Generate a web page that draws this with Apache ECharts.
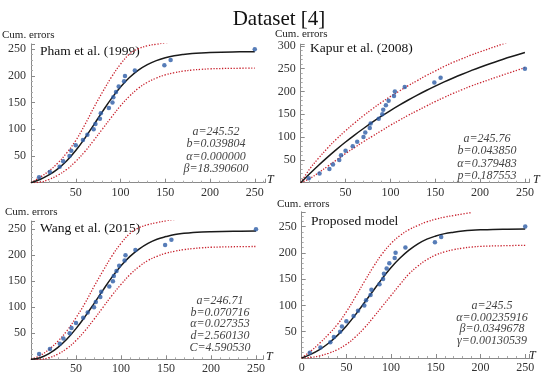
<!DOCTYPE html>
<html><head><meta charset="utf-8">
<script src="https://cdn.jsdelivr.net/npm/echarts@6/dist/echarts.min.js"></script>
<style>html,body{margin:0;padding:0;background:#fff}#c{width:550px;height:383px}</style>
</head><body><div id="c"></div>
<script>
// Observed data (time, cumulative errors)
const obsT = [9,21,32,36,43,45,50,58,63,70,72,77,78,87,91,92,95,98,104,105,116,149,156,250];
const obsY = [10,20,30,40,50,60,70,80,90,100,110,120,130,140,150,160,170,180,190,200,210,220,230,250];

// Sample times for curves
const tGrid = [0,10,20,30,40,50,60,70,80,90,100,110,120,130,140,150,160,170,180,190,200,225,250];

// Pham et al. (1999)
const phamFit = [0,6.0,14.5,26.0,41.2,60.3,82.9,108.0,133.6,157.9,179.3,197.0,210.8,221.1,228.6,233.9,237.6,240.1,241.9,243.1,243.9,244.9,245.3];
const phamUp  = [0,10,22,37,56,79,108,140,170,198,222,241,251,256.5,259.5,262,264.5,266.5,268,269.5,271,274,276];
const phamLow = [0,1,6,14,25,40,58,79,101,123,144,162,177,188,196,202,206,209,211,212.3,213.3,214.2,214.6];

// Kapur et al. (2008)
const kapurFit = [0,19.7,38.4,56.2,73.1,89.2,104.5,118.9,132.7,145.8,158.3,170.1,181.4,192.1,202.2,211.8,221.0,229.7,238.0,245.9,253.3,270.4,285.5];
const kapurUp  = [0,30,54,76,96,114,131,147,162,176,189,201,213,224,235,245,255,264,272,280,287,304,320];
const kapurLow = [0,9,22,36,50,64,77,90,102,114,126,137,148,158,168,178,187,196,204,212,219,236,252.4];

// Wang et al. (2015)
const wangFit = [0,3,11,23,39,59,82,107,133,158,180,198,212,223,231,236,240,242.3,244,245,245.5,246.3,246.7];
const wangUp  = [0,7,19,35,55,80,108,140,170,199,223,242,253,259,263,266.5,269,271,272.5,274,275,276.5,277.5];
const wangLow = [0,0,3,10,21,36,55,77,100,123,144,163,178,190,198,204,208,211,213,214.5,215.5,216.5,217];

// Proposed model
const propFit = [0,7,16,28,43,61,82,105,128,151,172,190,205,217,226,232,236.5,239.3,241.5,243,243.8,245,245.5];
const propUp  = [0,13,28,45,64,88,116,145,173,198,218,233,244,252,259,264,268,271,274,276.5,null,null,null];
const propLow = [0,1,4,9,16,26,40,57,77,98,119,140,160,175,187,196,202,206,209,211,212.3,213.5,214.3];

const panelTitles = ['Pham et al. (1999)','Kapur et al. (2008)','Wang et al. (2015)','Proposed model'];
const paramTexts = [
  ['a=245.52','b=0.039804','α=0.000000','β=18.390600'],
  ['a=245.76','b=0.043850','α=0.379483','p=0.187553'],
  ['a=246.71','b=0.070716','α=0.027353','d=2.560130','C=4.590530'],
  ['a=245.5','α=0.00235916','β=0.0349678','γ=0.00130539']
];
const mainTitle = 'Dataset [4]';
const yName = 'Cum. errors';

const panels = [
  {fit:phamFit, up:phamUp, low:phamLow, grid:{left:31,top:43.9,width:234.5,height:138.8}, xmax:262, ymax:260, show0:false},
  {fit:kapurFit, up:kapurUp, low:kapurLow, grid:{left:300.7,top:44.1,width:228.7,height:138.6}, xmax:255, ymax:304, show0:false},
  {fit:wangFit, up:wangUp, low:wangLow, grid:{left:31,top:221,width:232.2,height:138.3}, xmax:258, ymax:266, show0:false},
  {fit:propFit, up:propUp, low:propLow, grid:{left:301.7,top:211.8,width:228,height:146.2}, xmax:255, ymax:278, show0:true}
];

const SERIF = '"Liberation Serif", "DejaVu Serif", serif';
const axisColor = '#8a8a8a';
const labelColor = '#333';

const grids = [], xAxes = [], yAxes = [], series = [];
panels.forEach((p, i) => {
  grids.push(Object.assign({containLabel:false}, p.grid));
  xAxes.push({
    type:'value', gridIndex:i, min:0, max:p.xmax, interval:50,
    axisLine:{show:true, onZero:false, lineStyle:{color:axisColor, width:1}},
    axisTick:{show:true, inside:true, length:4, lineStyle:{color:axisColor}},
    minorTick:{show:true, splitNumber:5, length:2, lineStyle:{color:'#aaa'}},
    splitLine:{show:false},
    axisLabel:{margin:4, color:labelColor, fontFamily:SERIF, fontSize:12,
      formatter:(v)=> (v%50===0 && (v>0 || p.show0)) ? String(v) : ''}
  });
  yAxes.push({
    type:'value', gridIndex:i, min:0, max:p.ymax, interval:50,
    axisLine:{show:true, onZero:false, lineStyle:{color:axisColor, width:1}},
    axisTick:{show:true, inside:true, length:4, lineStyle:{color:axisColor}},
    minorTick:{show:true, splitNumber:5, length:2, lineStyle:{color:'#aaa'}},
    splitLine:{show:false},
    axisLabel:{margin:5, color:labelColor, fontFamily:SERIF, fontSize:12,
      formatter:(v)=> (v%50===0 && v>0) ? String(v) : ''}
  });
  const mk = (arr) => tGrid.map((t,k)=>[t, arr[k]]);
  const dotted = {type:'line', xAxisIndex:i, yAxisIndex:i, smooth:0.4, showSymbol:false, symbol:'none',
    clip:true, lineStyle:{color:'#c8202c', width:1.3, type:[1.3,1.6]}, z:2, silent:true};
  series.push(Object.assign({}, dotted, {data:mk(p.up)}));
  series.push(Object.assign({}, dotted, {data:mk(p.low)}));
  series.push({type:'line', xAxisIndex:i, yAxisIndex:i, smooth:0.4, showSymbol:false, symbol:'none', clip:true,
    lineStyle:{color:'#1a1a1a', width:1.5}, data:mk(p.fit), z:3, silent:true});
  series.push({type:'scatter', xAxisIndex:i, yAxisIndex:i, symbol:'circle', symbolSize:4.5,
    itemStyle:{color:'#2d5ca6'}, data:obsT.map((t,k)=>[t, obsY[k]]), z:4, silent:true});
});

const txt = (x, y, text, font, fill, align) => ({type:'text', x:x, y:y, silent:true,
  style:{text:text, font:font, fill:fill, align:align||'left', verticalAlign:'middle'}});

const graphics = [];
graphics.push(txt(279, 19, mainTitle, '21px ' + SERIF, '#111', 'center'));
[[2,35],[275,34],[5,212],[277,204]].forEach(([x,y]) => graphics.push(txt(x, y, yName, '11px ' + SERIF, '#222')));
[[40,51],[310,48],[40,228],[311,221]].forEach(([x,y],i) => graphics.push(txt(x, y, panelTitles[i], '13.5px ' + SERIF, '#111')));
[[267,180],[533,180],[266,357],[529,356]].forEach(([x,y]) => graphics.push(txt(x, y, 'T', 'italic 12px ' + SERIF, '#222')));
const paramPos = [[216,131.5,12.5],[487,139,12.3],[220,301,11.6],[492,306,11.6]];
paramPos.forEach(([x,y,dy],i) => {
  paramTexts[i].forEach((s,k) => graphics.push(txt(x, y + k*dy, s, 'italic 12px ' + SERIF, '#444', 'center')));
});

const chart = echarts.init(document.getElementById('c'), null, {renderer:'canvas'});
chart.setOption({
  animation:false,
  backgroundColor:'#fff',
  grid:grids, xAxis:xAxes, yAxis:yAxes, series:series,
  graphic:graphics
});
</script>
</body></html>
